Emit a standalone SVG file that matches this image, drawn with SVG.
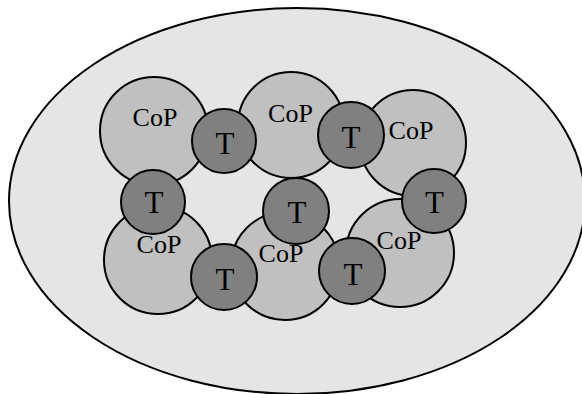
<svg xmlns="http://www.w3.org/2000/svg" width="582" height="394" viewBox="0 0 582 394">
<style>
.bg{fill:#e5e5e5;stroke:#000;stroke-width:2}
.cop{fill:#c0c0c0;stroke:#000;stroke-width:2}
.t{fill:#808080;stroke:#000;stroke-width:2}
text{font-family:"Liberation Serif","Times New Roman",serif;fill:#000;text-anchor:middle}
.lc{font-size:26px}
.lt{font-size:31px}
</style>
<rect width="582" height="394" fill="#fff"/>
<g id="community">
<ellipse class="bg" cx="297" cy="201" rx="288" ry="193"/>
</g>
<g id="cop1"><circle class="cop" cx="154" cy="131" r="54"/><text class="lc" x="155" y="126">CoP</text></g>
<g id="cop2"><circle class="cop" cx="291" cy="125" r="53"/><text class="lc" x="290.5" y="122">CoP</text></g>
<g id="cop3"><circle class="cop" cx="413" cy="143" r="53"/><text class="lc" x="411" y="139">CoP</text></g>
<g id="cop4"><circle class="cop" cx="158" cy="260" r="54"/><text class="lc" x="159" y="253">CoP</text></g>
<g id="cop5"><circle class="cop" cx="285" cy="266" r="54"/><text class="lc" x="281" y="262">CoP</text></g>
<g id="cop6"><circle class="cop" cx="400" cy="253" r="54"/><text class="lc" x="399" y="249">CoP</text></g>
<g id="t1"><circle class="t" cx="224" cy="141" r="32"/><text class="lt" x="225" y="154">T</text></g>
<g id="t2"><circle class="t" cx="351" cy="135" r="33"/><text class="lt" x="351" y="148">T</text></g>
<g id="t3"><circle class="t" cx="153" cy="202" r="32"/><text class="lt" x="154" y="213">T</text></g>
<g id="t4"><circle class="t" cx="296" cy="211" r="33"/><text class="lt" x="297" y="223">T</text></g>
<g id="t5"><circle class="t" cx="434" cy="201" r="32"/><text class="lt" x="434.5" y="213">T</text></g>
<g id="t6"><circle class="t" cx="224" cy="277" r="33"/><text class="lt" x="225" y="290">T</text></g>
<g id="t7"><circle class="t" cx="352" cy="271" r="33"/><text class="lt" x="353" y="285">T</text></g>
</svg>
